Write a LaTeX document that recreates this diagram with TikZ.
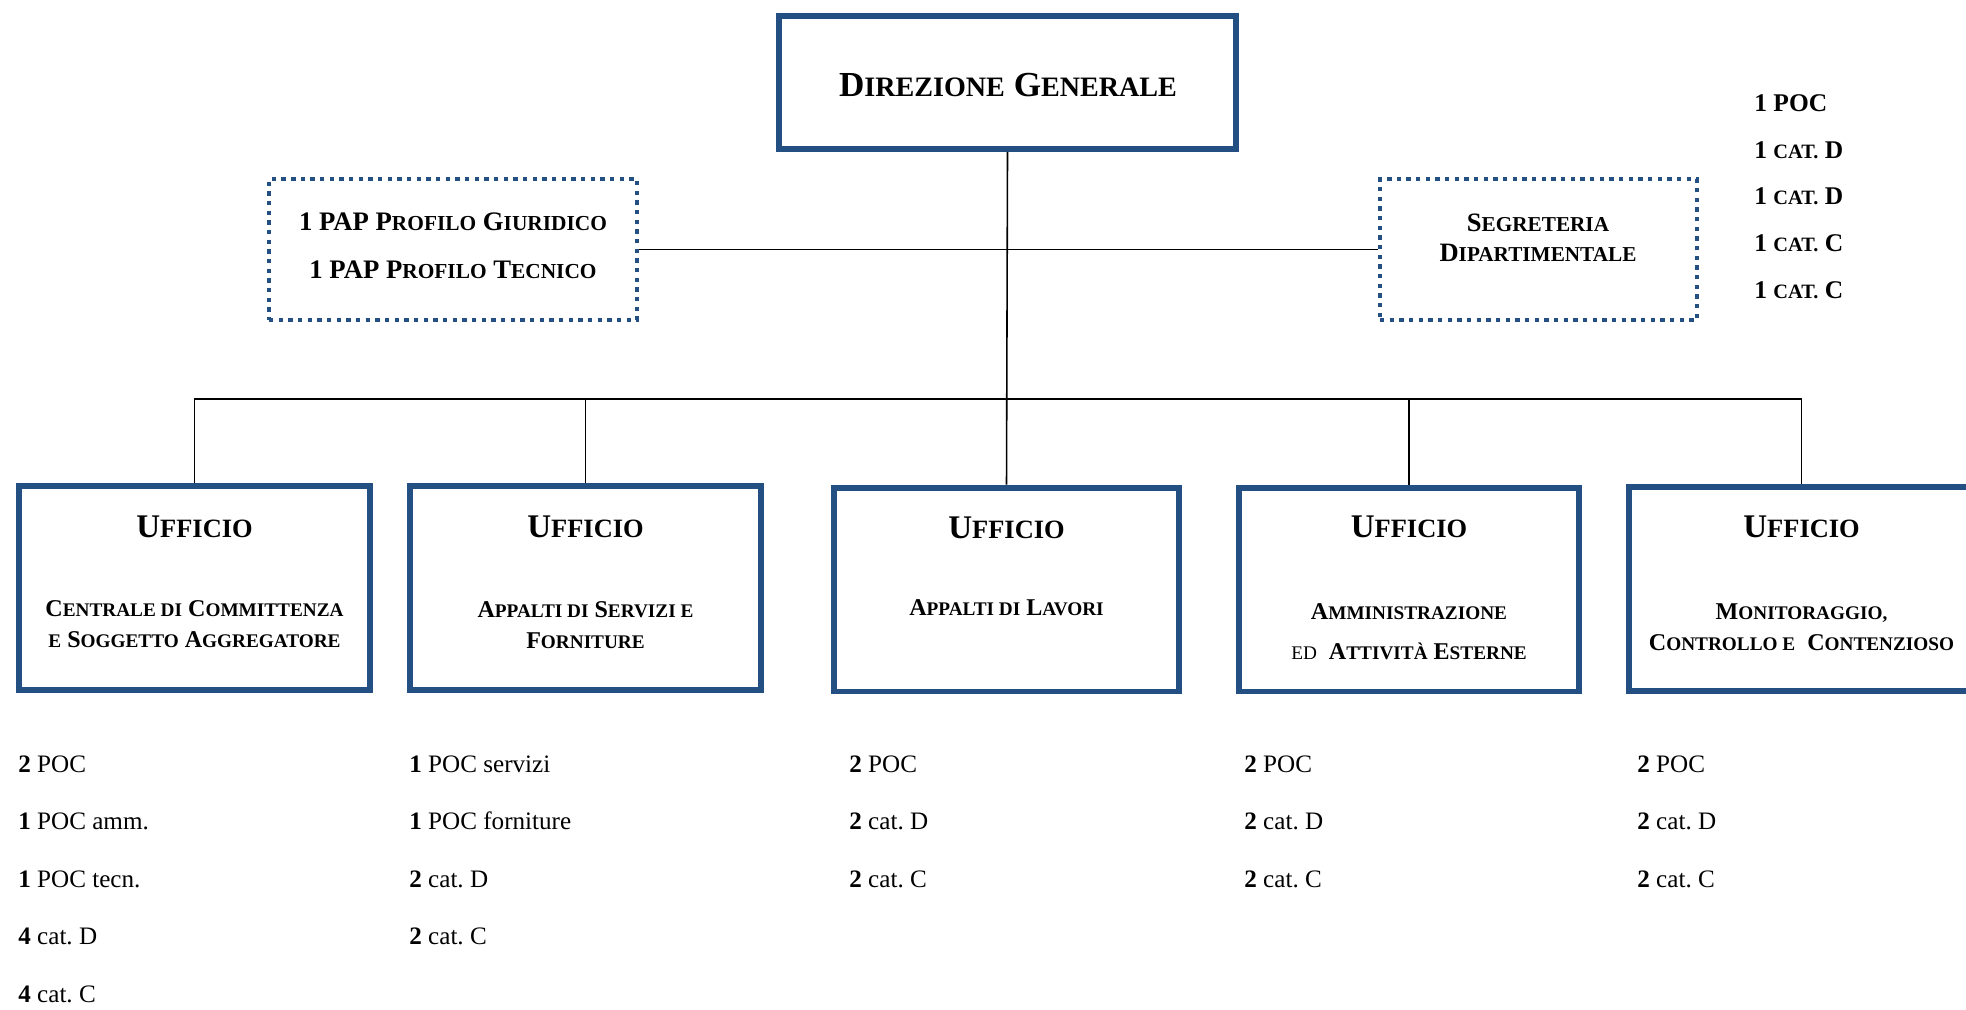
\documentclass[tikz,border=0pt]{standalone}
\usepackage{fontspec}
\setmainfont{Liberation Serif}
\usetikzlibrary{positioning}
\frenchspacing

\definecolor{boxblue}{RGB}{36,79,130}
\newcommand{\sm}[1]{{\fontsize{0.8em}{1.2em}\selectfont #1}}

\tikzset{
  capo/.style={draw=boxblue, line width=3.4pt, minimum width=9.14cm, minimum height=2.66cm, inner sep=0pt},
  ufficio/.style={draw=boxblue, line width=3.4pt, minimum width=7.02cm, minimum height=4.08cm, inner sep=0pt},
  staff/.style={draw=boxblue, line width=2.5pt, dash pattern=on 2.5pt off 3pt, minimum height=2.82cm, inner sep=0pt},
  link/.style={line width=0.9pt},
  titolo/.style={inner sep=0pt, font=\bfseries\fontsize{18.8}{22}\selectfont},
  nome/.style={inner sep=0pt, align=center, font=\bfseries\fontsize{13.7}{17.5}\selectfont},
  lista/.style={inner sep=0pt, align=left, anchor=base west, font=\fontsize{14.3}{32.7}\selectfont}
}

\begin{document}
\begin{tikzpicture}[x=0.02cm, y=-0.02cm]
\useasboundingbox (0,0) rectangle (1966,1009);

\node[capo] (dg) at (1007.5,82.5) {};
\node[inner sep=0pt, font=\bfseries\fontsize{20}{24}\selectfont] (dgt) at (1008,85) {D\sm{IREZIONE} G\sm{ENERALE}};

\node[staff, minimum width=7.36cm] (pap) at (453,249.5) {};
\node[inner sep=0pt, align=center, font=\bfseries\fontsize{15.2}{27.3}\selectfont] (papt) at (453,246)
  {1 PAP P\sm{ROFILO} G\sm{IURIDICO}\\1 PAP P\sm{ROFILO} T\sm{ECNICO}};

\node[staff, minimum width=6.34cm] (seg) at (1538.5,249.5) {};
\node[inner sep=0pt, align=center, font=\bfseries\fontsize{15.1}{17}\selectfont] (segt) at (1538,238)
  {S\sm{EGRETERIA}\\D\sm{IPARTIMENTALE}};

% base = ultima riga
\node[inner sep=0pt, align=left, anchor=base west, font=\bfseries\fontsize{14.5}{26.5}\selectfont] (segl) at (1754,298)
  {1 POC\\1 \sm{CAT.} D\\1 \sm{CAT.} D\\1 \sm{CAT.} C\\1 \sm{CAT.} C};

\node[ufficio] (u1) at (194.5,588) {};
\node[ufficio] (u2) at (585.5,588) {};
\node[ufficio, minimum width=6.9cm] (u3) at (1006.5,589.5) {};
\node[ufficio, minimum width=6.8cm] (u4) at (1409,589.5) {};
\node[ufficio, minimum width=6.9cm] (u5) at (1801.5,589) {};

\coordinate (bus) at (1009,399);
\draw[link] (dg.south) -- (u3.north);
\draw[link] (pap.east) -- (seg.west);
\draw[link] (u1.north) -- (u1.north |- bus) -- (u5.north |- bus) -- (u5.north);
\draw[link] (u2.north) -- (u2.north |- bus);
\draw[link] (u4.north) -- (u4.north |- bus);

\node[titolo] (t1) at (194.5,527) {U\sm{FFICIO}};
\node[titolo] (t2) at (585.5,527) {U\sm{FFICIO}};
\node[titolo] (t3) at (1006.5,528) {U\sm{FFICIO}};
\node[titolo] (t4) at (1409,527) {U\sm{FFICIO}};
\node[titolo] (t5) at (1801.5,527) {U\sm{FFICIO}};

\node[nome] (n1) at (194.5,624) {C\sm{ENTRALE DI} C\sm{OMMITTENZA}\\\sm{E} S\sm{OGGETTO} A\sm{GGREGATORE}};
\node[nome] (n2) at (585.5,625) {A\sm{PPALTI DI} S\sm{ERVIZI E}\\F\sm{ORNITURE}};
\node[nome] (n3) at (1006.5,608) {A\sm{PPALTI DI} L\sm{AVORI}};
\node[nome, font=\bfseries\fontsize{13.7}{22.7}\selectfont] (n4) at (1409,632) {A\sm{MMINISTRAZIONE}\\{\mdseries\sm{ED}}\ \ A\sm{TTIVITÀ} E\sm{STERNE}};
\node[nome] (n5) at (1801.5,627) {M\sm{ONITORAGGIO,}\\C\sm{ONTROLLO E}\ \ C\sm{ONTENZIOSO}};

\node[lista] (l1) at (18,1002) {\textbf{2} POC\\\textbf{1} POC amm.\\\textbf{1} POC tecn.\\\textbf{4} cat. D\\\textbf{4} cat. C};
\node[lista] (l2) at (409,944.5) {\textbf{1} POC servizi\\\textbf{1} POC forniture\\\textbf{2} cat. D\\\textbf{2} cat. C};
\node[lista] (l3) at (849,887) {\textbf{2} POC\\\textbf{2} cat. D\\\textbf{2} cat. C};
\node[lista] (l4) at (1244,887) {\textbf{2} POC\\\textbf{2} cat. D\\\textbf{2} cat. C};
\node[lista] (l5) at (1637,887) {\textbf{2} POC\\\textbf{2} cat. D\\\textbf{2} cat. C};
\end{tikzpicture}
\end{document}
